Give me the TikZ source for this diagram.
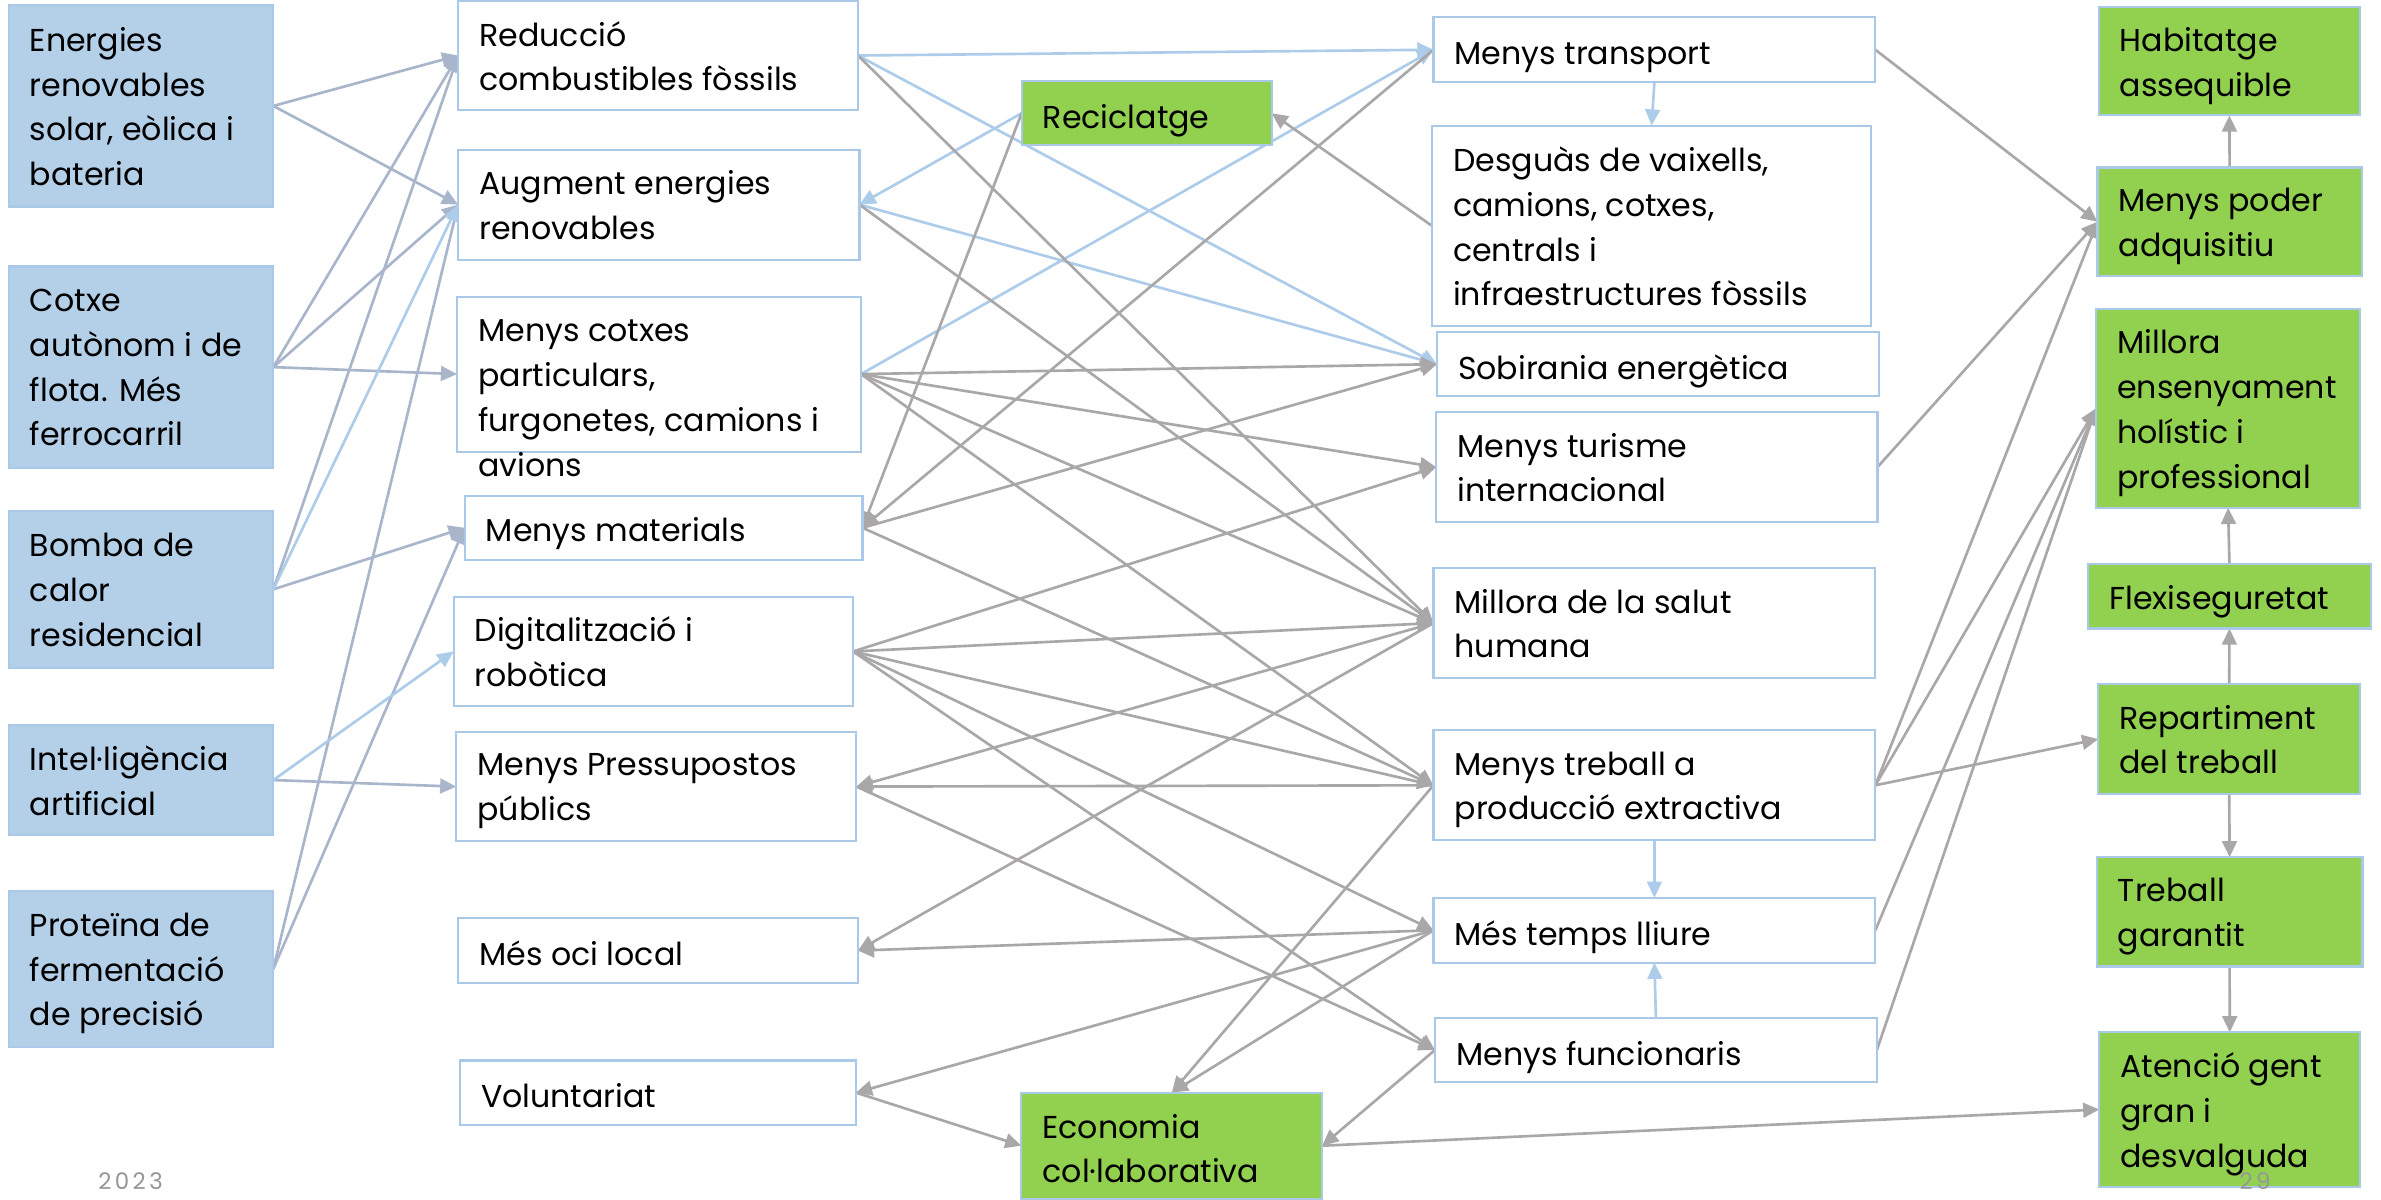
\documentclass[tikz,border=0pt]{standalone}
\usepackage{fontspec}
\setmainfont{Poppins}
\usetikzlibrary{arrows.meta,fit,calc}
\definecolor{lblue}{RGB}{180,207,232}
\definecolor{bord}{RGB}{170,201,233}
\definecolor{grn}{RGB}{146,208,80}
\definecolor{gline}{RGB}{169,167,167}
\definecolor{bline}{RGB}{172,204,234}
\definecolor{sline}{RGB}{168,181,202}
\definecolor{foot}{RGB}{150,150,150}
\pgfdeclarelayer{bg}
\pgfsetlayers{bg,main}
\newcommand{\tstrut}{\vphantom{Áp}}
\tikzset{
  box/.style={draw=bord, line width=0.6pt, inner sep=0pt, outer sep=0pt},
  bluebox/.style={box, fill=lblue},
  whitebox/.style={box, fill=white},
  greenbox/.style={box, fill=grn},
  txt/.style={font=\fontsize{9}{12.75}\selectfont, align=left, anchor=west, inner sep=0pt, text=black,
    execute at begin node=\tstrut, execute at end node=\tstrut},
  conn/.style={line width=0.75pt, -{Triangle[length=4.6pt,width=4.2pt]}},
  ga/.style={conn, draw=gline},
  ba/.style={conn, draw=bline},
  sa/.style={conn, draw=sline},
}
\begin{document}
\begin{tikzpicture}[x=0.015185cm, y=-0.015185cm]
\useasboundingbox (0,0) rectangle (1568,790);
\begin{pgfonlayer}{bg}
\fill[white] (0,0) rectangle (1568,790);
\end{pgfonlayer}

% left column
\node[bluebox, fit={(5.7,3.5) (180,136)}] (l1) {};
\node[bluebox, fit={(5.7,175.5) (180,308)}] (l2) {};
\node[bluebox, fit={(5.7,336.5) (180,439.7)}] (l3) {};
\node[bluebox, fit={(5.7,477.4) (180,550)}] (l4) {};
\node[bluebox, fit={(5.7,586.6) (180,689.5)}] (l5) {};

% middle-left column
\node[whitebox, fit={(301.7,0.8) (565,72.3)}] (m1) {};
\node[whitebox, fit={(301.7,98.5) (566,171)}] (m2) {};
\node[whitebox, fit={(301,195.3) (567,297.4)}] (m3) {};
\node[whitebox, fit={(306,326.4) (568,368.7)}] (m4) {};
\node[whitebox, fit={(298.7,392.9) (561.8,465.1)}] (m5) {};
\node[whitebox, fit={(300.5,482) (564,554)}] (m6) {};
\node[whitebox, fit={(301.7,604.8) (565,647.2)}] (m7) {};
\node[whitebox, fit={(302.8,698.4) (563.7,740.7)}] (m8) {};

% green middle
\node[greenbox, fit={(672.8,53.5) (837.4,95.6)}] (g1) {};
\node[greenbox, fit={(672.6,719.5) (870.8,789.5)}] (g2) {};

% right-middle column
\node[whitebox, fit={(944,11.3) (1235,54.2)}] (r1) {};
\node[whitebox, fit={(943,82.7) (1232.3,214.7)}] (r2) {};
\node[whitebox, fit={(946.3,218.8) (1237.3,260.8)}] (r3) {};
\node[whitebox, fit={(945.8,271.4) (1236.4,343.8)}] (r4) {};
\node[whitebox, fit={(944,374.2) (1235,446.4)}] (r5) {};
\node[whitebox, fit={(944,481) (1235,553.3)}] (r6) {};
\node[whitebox, fit={(944,591.2) (1235,634)}] (r7) {};
\node[whitebox, fit={(945,670.2) (1236,712.7)}] (r8) {};

% right column
\node[greenbox, fit={(1382,4.5) (1554.3,76)}] (h1) {};
\node[greenbox, fit={(1381.3,110.3) (1555.3,181.8)}] (h2) {};
\node[greenbox, fit={(1380.3,203.4) (1554.3,334.4)}] (h3) {};
\node[greenbox, fit={(1375.2,371.6) (1561.2,413.9)}] (h4) {};
\node[greenbox, fit={(1381.8,450.7) (1554.3,522.7)}] (h5) {};
\node[greenbox, fit={(1380.8,564.5) (1555.8,636.5)}] (h6) {};
\node[greenbox, fit={(1382.5,679.8) (1554.3,781.5)}] (h7) {};

% texts
\node[txt] (l1t) at ($(l1.west)+(13.5,3)$) {Energies\\renovables\\solar, eòlica i\\bateria};
\node[txt] (l2t) at ($(l2.west)+(13.5,3)$) {Cotxe\\autònom i de\\flota. Més\\ferrocarril};
\node[txt] (l3t) at ($(l3.west)+(13.5,3)$) {Bomba de\\calor\\residencial};
\node[txt] (l4t) at ($(l4.west)+(13.5,3)$) {Intel·ligència\\artificial};
\node[txt] (l5t) at ($(l5.west)+(13.5,3)$) {Proteïna de\\fermentació\\de precisió};

\node[txt] (m1t) at ($(m1.west)+(13.5,3)$) {Reducció\\combustibles fòssils};
\node[txt] (m2t) at ($(m2.west)+(13.5,3)$) {Augment energies\\renovables};
\node[txt] (m3t) at ($(m3.west)+(13.5,18.5)$) {Menys cotxes\\particulars,\\furgonetes, camions i\\avions};
\node[txt] (m4t) at ($(m4.west)+(13.5,2)$) {Menys materials};
\node[txt] (m5t) at ($(m5.west)+(13.5,3)$) {Digitalització i\\robòtica};
\node[txt] (m6t) at ($(m6.west)+(13.5,3)$) {Menys Pressupostos\\públics};
\node[txt] (m7t) at ($(m7.west)+(13.5,3)$) {Més oci local};
\node[txt] (m8t) at ($(m8.west)+(13.5,3)$) {Voluntariat};

\node[txt] (g1t) at ($(g1.west)+(13.5,3)$) {Reciclatge};
\node[txt] (g2t) at ($(g2.west)+(13.5,4.5)$) {Economia\\col·laborativa};

\node[txt] (r1t) at ($(r1.west)+(13.5,3)$) {Menys transport};
\node[txt] (r2t) at ($(r2.west)+(13.5,3)$) {Desguàs de vaixells,\\camions, cotxes,\\centrals i\\infraestructures fòssils};
\node[txt] (r3t) at ($(r3.west)+(13.5,3)$) {Sobirania energètica};
\node[txt] (r4t) at ($(r4.west)+(13.5,3)$) {Menys turisme\\internacional};
\node[txt] (r5t) at ($(r5.west)+(13.5,3)$) {Millora de la salut\\humana};
\node[txt] (r6t) at ($(r6.west)+(13.5,3)$) {Menys treball a\\producció extractiva};
\node[txt] (r7t) at ($(r7.west)+(13.5,3)$) {Més temps lliure};
\node[txt] (r8t) at ($(r8.west)+(13.5,3)$) {Menys funcionaris};

\node[txt] (h1t) at ($(h1.west)+(13.5,3)$) {Habitatge\\assequible};
\node[txt] (h2t) at ($(h2.west)+(13.5,3)$) {Menys poder\\adquisitiu};
\node[txt] (h3t) at ($(h3.west)+(13.5,3)$) {Millora\\ensenyament\\holístic i\\professional};
\node[txt] (h4t) at ($(h4.west)+(13.5,2)$) {Flexiseguretat};
\node[txt] (h5t) at ($(h5.west)+(13.5,3)$) {Repartiment\\del treball};
\node[txt] (h6t) at ($(h6.west)+(13.5,3)$) {Treball\\garantit};
\node[txt] (h7t) at ($(h7.west)+(13.5,3)$) {Atenció gent\\gran i\\desvalguda};

% footer
\node[font=\fontsize{6.5}{8}\selectfont\addfontfeatures{LetterSpace=15}, text=foot, inner sep=0pt] (year) at (86,778) {2023};
\node[font=\fontsize{6.5}{8}\selectfont\addfontfeatures{LetterSpace=15}, text=foot, inner sep=0pt] (page) at (1485,778) {29};

\begin{pgfonlayer}{bg}
% left column connectors
\foreach \a/\b in {l1/m1, l1/m2, l2/m1, l2/m2, l2/m3, l3/m1, l3/m4, l4/m6, l5/m2, l5/m4}
  \draw[sa] (\a.east) -- (\b.west);
\foreach \a/\b in {l3/m2, l4/m5, m1/r1, m1/r3, m2/r3, m3/r1}
  \draw[ba] (\a.east) -- (\b.west);
\draw[ba] (g1.west) -- (m2.east);
\draw[ba] (r1.south) -- (r2.north);
\draw[ba] (r6.south) -- (r7.north);
\draw[ba] (r8.north) -- (r7.south);
% gray connectors, left to right
\foreach \a/\b in {m1/r5, m2/r5, m3/r3, m3/r4, m3/r5, m3/r6, m4/r3, m4/r6,
                   m5/r4, m5/r5, m5/r6, m5/r7, m5/r8, m6/r8}
  \draw[ga] (\a.east) -- (\b.west);
% gray connectors, right to left
\foreach \a/\b in {r1/m4, r5/m6, r6/m6, r5/m7, r7/m7, r7/m8}
  \draw[ga] (\a.west) -- (\b.east);
\draw[ga] (g1.west) -- (m4.east);
\draw[ga] (r2.west) -- (g1.east);
\draw[ga] (m8.east) -- (g2.west);
\draw[ga] (r6.west) -- (g2.north);
\draw[ga] (r7.west) -- (g2.north);
\draw[ga] (r8.west) -- (g2.east);
% to right column
\foreach \a/\b in {r1/h2, r4/h2, r6/h2, r6/h3, r6/h5, r7/h3, r8/h3, g2/h7}
  \draw[ga] (\a.east) -- (\b.west);
\draw[ga] (h2.north) -- (h1.south);
\draw[ga] (h4.north) -- (h3.south);
\draw[ga] (h5.north) -- (h4.south);
\draw[ga] (h5.south) -- (h6.north);
\draw[ga] (h6.south) -- (h7.north);
\end{pgfonlayer}
\end{tikzpicture}
\end{document}
